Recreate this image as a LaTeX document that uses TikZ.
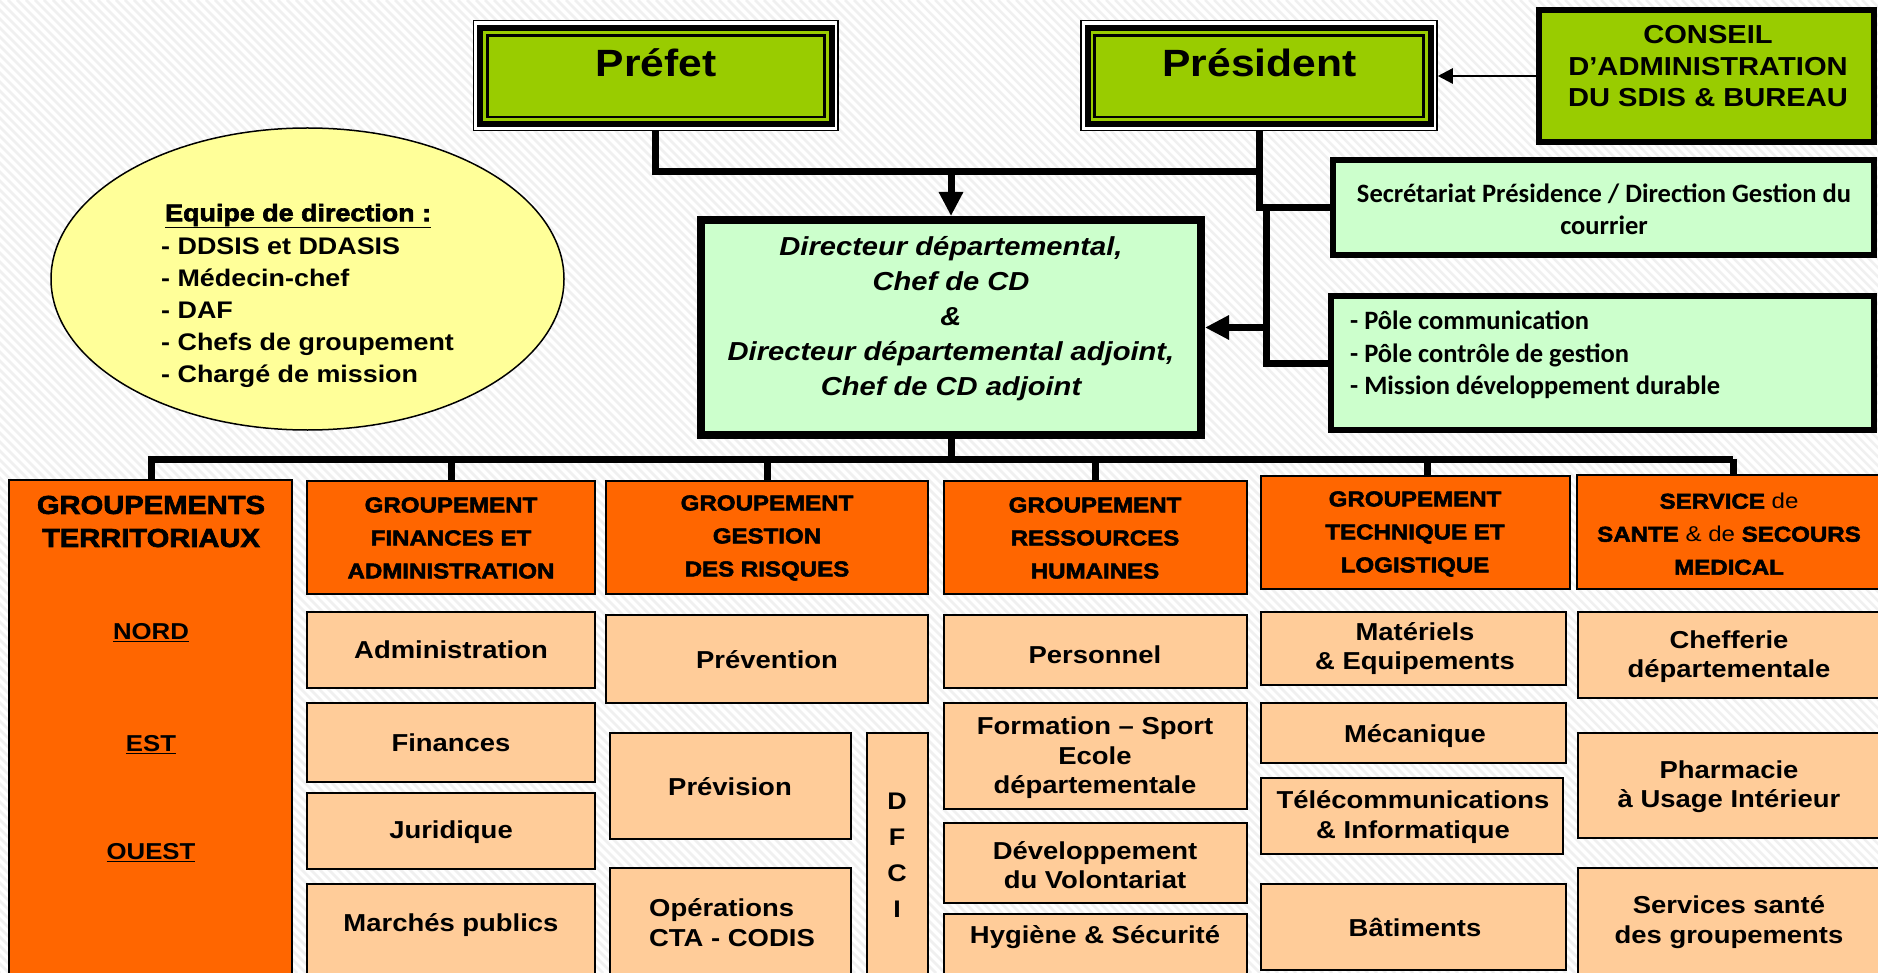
\documentclass[tikz,border=0pt]{standalone}
\usepackage{fontspec}
\setmainfont{Liberation Sans}[FakeStretch=1.12]
\newfontfamily\hfont{Liberation Sans Bold}[FakeStretch=1.12, FakeBold=2.5]
\newfontfamily\calfont{Carlito}
\usetikzlibrary{arrows.meta, shapes.geometric, fit}
\definecolor{vert}{HTML}{99CC00}
\definecolor{vertc}{HTML}{CCFFCC}
\definecolor{orfonce}{HTML}{FF6600}
\definecolor{orclair}{HTML}{FFCC99}
\definecolor{jaune}{HTML}{FFFF99}
\tikzset{
  conn/.style={line width=7pt, line join=miter},
  grbox/.style={draw, line width=2.5pt, fill=orfonce, inner sep=0pt},
  subbox/.style={draw, line width=2.5pt, fill=orclair, inner sep=0pt},
  lgbox/.style={draw, fill=vertc, inner sep=0pt},
  hd/.style={font={\hfont\fontsize{21.5}{33}\selectfont}, align=center, inner sep=0pt},
  st/.style={font={\bfseries\fontsize{24.5}{29.5}\selectfont}, align=center, inner sep=0pt},
  bigt/.style={font={\bfseries\fontsize{38}{44}\selectfont}, inner sep=0pt},
  calt/.style={font={\calfont\bfseries\fontsize{26.5}{32.5}\selectfont}, inner sep=0pt},
  bgline/.style={black!6, line width=2.5pt}
}
\begin{document}
\begin{tikzpicture}[x=1pt, y=-1pt]
\useasboundingbox (0,0) rectangle (1878,973);
\fill[white] (0,0) rectangle (1878,973);
\begin{scope}
  \clip (0,0) rectangle (1878,973);
  \foreach \i in {-1000,-991,...,1880} \draw[bgline] (\i,0) -- (\i+973,973);
\end{scope}

% ---- top green boxes ----
\node[draw, line width=1.5pt, fill=white, inner sep=0pt, fit={(473.5,20.5) (838,130.5)}] (pref) {};
\draw[line width=6pt, fill=vert] (480,28) rectangle (831.5,124);
\draw[line width=2.5pt] (487.5,35.5) rectangle (824.5,117);
\node[bigt] (preft) at (656,63) {Préfet};

\node[draw, line width=1.5pt, fill=white, inner sep=0pt, fit={(1081,20.5) (1437,130.5)}] (pres) {};
\draw[line width=6pt, fill=vert] (1087.5,28) rectangle (1430.5,124);
\draw[line width=2.5pt] (1094.5,35.5) rectangle (1423.5,117);
\node[bigt] (prest) at (1259.5,63) {Président};

\node[draw, line width=6pt, fill=vert, inner sep=0pt, fit={(1539,10) (1874,142)}] (cons) {};
\node[font={\bfseries\fontsize{26}{31.5}\selectfont}, align=center, inner sep=0pt] (const) at (1708,66.5) {CONSEIL\\D’ADMINISTRATION\\DU SDIS \& BUREAU};

\node[lgbox, line width=5.5pt, fit={(1333,160) (1874,255)}] (sec) {};
\node[calt, align=center] (sect) at (1604,209.5) {Secrétariat Présidence / Direction Gestion du\\courrier};

\node[lgbox, line width=5.5pt, fit={(1331,296) (1874,430)}] (pole) {};
\node[calt, align=left, anchor=west] (polet) at (1350,355) {- Pôle communication\\- Pôle contrôle de gestion\\- Mission développement durable};

\node[lgbox, line width=8pt, fit={(701,220) (1201,435)}] (dir) {};
\node[font={\bfseries\itshape\fontsize{26}{35}\selectfont}, align=center, inner sep=0pt] (dirt) at (951,319) {Directeur départemental,\\Chef de CD\\\&\\Directeur départemental adjoint,\\Chef de CD adjoint};

% ---- ellipse ----
\node[ellipse, draw, line width=1.5pt, fill=jaune, minimum width=513pt, minimum height=302pt, inner sep=0pt] (eq) at (307.5,279) {};
\node[font={\hfont\fontsize{24}{32}\selectfont}, anchor=west, inner sep=0pt] (eqh) at (165,216) {\underline{Equipe de direction :}};
\node[font={\bfseries\fontsize{24}{32}\selectfont}, anchor=west, align=left, inner sep=0pt] (eql) at (161,313) {- DDSIS et DDASIS\\- Médecin-chef\\- DAF\\- Chefs de groupement\\- Chargé de mission};

% ---- connectors (top) ----
\coordinate (a76) at (0,76);
\draw[line width=2.5pt, -{Triangle[length=15pt,width=15pt]}] (cons.west |- a76) -- (pres.east |- a76);
\coordinate (jp) at (1259.5,171.5);
\draw[conn] (pref.south) |- (jp);
\draw[conn] (pres.south) |- (sec.west);
\coordinate (j2) at (1266.5,207.5);
\draw[conn] (j2) |- (pole.west);
\coordinate (j3) at (1266.5,327.5);
\draw[conn, -{Triangle[length=24pt,width=23pt]}] (j3) -- (j3 -| dir.east);
\coordinate (jd) at (951,171.5);
\draw[conn, -{Triangle[length=24pt,width=23pt]}] (jd) -- (jd |- dir.north);

% ---- groupements ----
\node[grbox, fit={(9,480) (292,990)}] (terr) {};
\node[grbox, fit={(307,481) (595,594)}] (gfin) {};
\node[grbox, fit={(606,481) (928,594)}] (ggest) {};
\node[grbox, fit={(944,481) (1247,594)}] (grh) {};
\node[grbox, fit={(1261,476) (1570,589)}] (gtech) {};
\node[grbox, fit={(1577,475) (1890,589)}] (gserv) {};

\node[font={\hfont\fontsize{26}{33}\selectfont}, align=center, inner sep=0pt] (terrt) at (151,521.5) {GROUPEMENTS\\TERRITORIAUX};
\node[font={\bfseries\fontsize{23}{28}\selectfont}, inner sep=0pt] (nord) at (151,633) {\underline{NORD}};
\node[font={\bfseries\fontsize{23}{28}\selectfont}, inner sep=0pt] (est) at (151,745) {\underline{EST}};
\node[font={\bfseries\fontsize{23}{28}\selectfont}, inner sep=0pt] (ouest) at (151,853) {\underline{OUEST}};

\node[hd] (gfint) at (451,538) {GROUPEMENT\\FINANCES ET\\ADMINISTRATION};
\node[hd] (ggestt) at (767,538) {GROUPEMENT\\GESTION\\DES RISQUES};
\node[hd] (grht) at (1095,538) {GROUPEMENT\\RESSOURCES\\HUMAINES};
\node[hd] (gtecht) at (1415,534) {GROUPEMENT\\TECHNIQUE ET\\LOGISTIQUE};
\node[hd] (gservt) at (1729,534) {SERVICE {\normalfont de}\\SANTE {\normalfont \& de} SECOURS\\MEDICAL};

% ---- bus ----
\coordinate (bl) at (151,459);
\coordinate (br) at (1729,459);
\coordinate (bt) at (1427,459);
\draw[conn] (dir.south) -- (dir.south |- bl);
\draw[conn, line cap=rect] (bl) -- (br);
\draw[conn] (bl) -- (bl |- terr.north);
\foreach \n in {gfin, ggest, grh, gserv} \draw[conn] (\n.north |- bl) -- (\n.north);
\draw[conn] (bt) -- (bt |- gtech.north);

% ---- sub boxes ----
\node[subbox, fit={(307,612) (595,688)}] (sadm) {};
\node[subbox, fit={(307,703) (595,782)}] (sfin) {};
\node[subbox, fit={(307,793) (595,869)}] (sjur) {};
\node[subbox, fit={(307,884) (595,990)}] (smar) {};
\node[subbox, fit={(606,615) (928,703)}] (sprev) {};
\node[subbox, fit={(610,733) (851,839)}] (sprevi) {};
\node[subbox, fit={(610,868) (851,990)}] (sops) {};
\node[subbox, fit={(867,733) (928,990)}] (sdfci) {};
\node[subbox, fit={(944,615) (1247,688)}] (spers) {};
\node[subbox, fit={(944,703) (1247,809)}] (sform) {};
\node[subbox, fit={(944,823) (1247,903)}] (sdev) {};
\node[subbox, fit={(944,914) (1247,990)}] (shyg) {};
\node[subbox, fit={(1261,612) (1566,685)}] (smat) {};
\node[subbox, fit={(1261,703) (1566,763)}] (smec) {};
\node[subbox, fit={(1261,778) (1563,854)}] (stel) {};
\node[subbox, fit={(1261,884) (1566,970)}] (sbat) {};
\node[subbox, fit={(1578,612) (1890,698)}] (schef) {};
\node[subbox, fit={(1578,733) (1890,838)}] (spha) {};
\node[subbox, fit={(1578,868) (1890,990)}] (ssan) {};

\node[st] (sadmt) at (451,650) {Administration};
\node[st] (sfint) at (451,743) {Finances};
\node[st] (sjurt) at (451,832) {Juridique};
\node[st] (smart) at (451,925) {Marchés publics};
\node[st] (sprevt) at (767,660) {Prévention};
\node[st] (sprevit) at (730,787) {Prévision};
\node[st, align=left] (sopst) at (732,922.5) {Opérations\\CTA - CODIS};
\node[st, font={\bfseries\fontsize{24}{36}\selectfont}] (sdfcit) at (897,855) {D\\F\\C\\I};
\node[st] (sperst) at (1095,655) {Personnel};
\node[st] (sformt) at (1095,758) {Formation – Sport\\Ecole\\départementale};
\node[st] (sdevt) at (1095,865) {Développement\\du Volontariat};
\node[st] (shygt) at (1095,937) {Hygiène \& Sécurité};
\node[st] (smatt) at (1415,648.5) {Matériels\\\& Equipements};
\node[st] (smect) at (1415,736) {Mécanique};
\node[st] (stelt) at (1413,817) {Télécommunications\\\& Informatique};
\node[st] (sbatt) at (1415,927) {Bâtiments};
\node[st] (scheft) at (1729,656.5) {Chefferie\\départementale};
\node[st] (sphat) at (1729,786.5) {Pharmacie\\à Usage Intérieur};
\node[st] (ssant) at (1729,922) {Services santé\\des groupements};
\end{tikzpicture}
\end{document}
